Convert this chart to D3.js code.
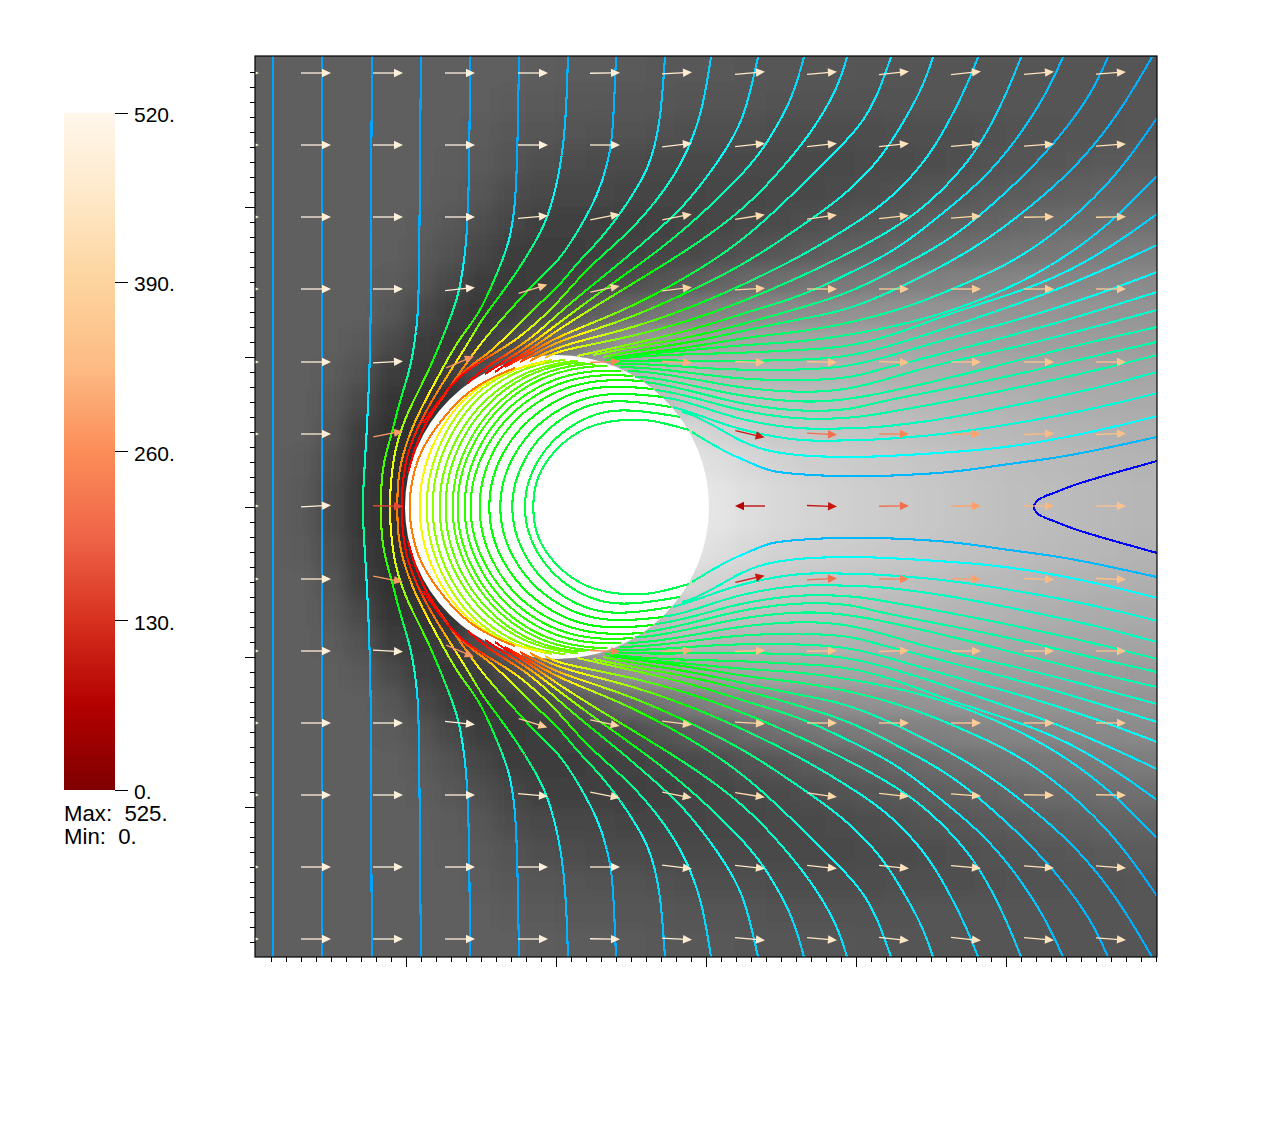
<!DOCTYPE html>
<html>
<head>
  <title>Flow past a disc</title>
  <style>
    html, body { margin: 0; padding: 0; background: #fff; }
    text { font-family: "Liberation Sans", sans-serif; font-size: 21px; fill: #000; white-space: pre; }
    text.note { font-size: 22.2px; }
  </style>
</head>
<body>
  <div id="chart"></div>

  <script src="https://d3js.org/d3.v7.min.js"></script>
  <script>
    // Colour bar
    const barTicks = [520, 390, 260, 130, 0];
    const barNotes = ["Max:  525.", "Min:  0."];

    // Background grey level, upper half of the plot (the lower half is its mirror)
    const heatX = [-286, -256, -226, -196, -166, -136, -106, -76, -46, -16, 14, 44, 74, 104, 134, 164, 194, 224, 254, 284, 314, 344, 374, 404, 434, 464, 494, 524, 554, 584];
    const heatY = [435, 405, 375, 345, 315, 285, 255, 225, 195, 165, 135, 105, 75, 45, 15];
    const heatGrey = [
      [95,95,95,95,95,95,95,95,94,93,92,91,90,89,88,88,87,87,86,86,85,85,85,85,85,85,85,85,85,85],
      [95,95,95,95,95,95,95,94,92,90,89,88,87,86,85,84,84,83,83,83,83,83,84,84,84,84,85,85,85,86],
      [95,95,95,95,95,95,94,92,89,86,84,83,82,81,80,79,79,78,78,78,78,79,80,80,81,82,83,84,85,87],
      [95,95,95,95,95,95,93,90,85,80,77,76,75,74,73,73,73,73,73,74,75,76,78,80,82,84,86,88,90,92],
      [95,95,95,95,95,94,91,86,78,72,70,70,69,69,69,70,71,72,74,76,78,81,84,87,90,92,95,97,99,100],
      [95,95,95,95,95,93,88,79,70,65,65,65,65,66,68,70,73,76,79,83,87,90,94,97,100,103,106,108,110,112],
      [95,95,95,95,94,90,82,70,62,60,62,64,66,68,72,77,82,87,92,96,100,104,108,111,114,117,119,121,123,125],
      [95,95,95,95,92,84,72,62,58,60,66,72,78,84,92,100,106,112,116,120,123,126,128,130,132,134,135,136,137,138],
      [95,95,95,94,87,73,62,57,60,70,82,94,106,116,126,132,136,140,142,144,146,147,148,148,148,148,148,148,148,148],
      [95,95,94,90,76,62,56,60,75,100,118,134,148,155,160,162,164,165,165,165,165,164,163,162,160,159,158,157,156,155],
      [95,95,92,82,62,55,60,80,100,130,150,165,180,185,185,180,180,178,178,178,176,175,174,172,170,168,167,166,165,164],
      [95,94,88,72,54,52,52,60,80,110,140,165,180,190,195,195,193,192,190,188,186,184,182,180,178,176,174,172,171,170],
      [95,94,84,62,50,50,52,60,80,110,150,180,200,210,215,210,205,200,198,196,194,192,190,187,185,183,180,178,176,175],
      [95,92,80,58,50,50,52,60,80,110,150,190,210,222,228,222,215,210,206,204,201,199,196,193,191,188,186,184,182,180],
      [95,90,75,55,50,50,52,60,80,110,150,190,215,228,232,228,222,216,212,208,205,202,199,196,193,190,188,186,184,182]
    ];

    // Arrows: the last row of the tables is the centre row, rows below it repeat the ones above
    // with the angle turned over. null = inside the disc
    const arrowX = [-312, -240, -168, -96, -23, 49, 121, 194, 266, 338, 410, 483, 555];
    const arrowY = [434, 362, 290, 218, 145, 73, 1, -72, -144, -216, -288, -360, -432];
    const arrowAngle = [
      [0,0,0,0,0,1,3,5,5,6,6,5,4],
      [0,0,0,0,0,0,7,6,6,6,5,4,4],
      [0,0,0,0,5,11,11,9,8,6,4,1,1],
      [0,0,0,6,17,12,7,3,0,0,0,0,0],
      [0,0,3,23,null,2,-2,-2,-1,-2,0,0,0],
      [0,0,11,null,null,null,null,-13,-3,0,1,2,2],
      [0,3,-1,null,null,null,null,180,-2,1,0,0,0]
    ];
    const arrowSpeed = [
      [490,490,490,490,490,485,475,465,455,450,445,440,440],
      [490,490,490,490,490,480,460,450,445,440,435,430,430],
      [490,490,490,490,460,440,425,415,410,405,400,395,390],
      [490,490,490,480,370,400,395,390,385,370,370,370,370],
      [490,490,480,270,null,250,310,340,345,340,350,350,350],
      [490,480,280,null,null,null,null,100,210,245,290,325,340],
      [490,485,160,null,null,null,null,70,95,210,285,320,345]
    ];

    // Contours outside the disc, read from the upper half: [x, y, level]
    const outerLines = [
      [[-283,451,.16],[-283,0,.16]],
      [[-234,451,.16],[-234,0,.16]],
      [[-184,451,.16],[-185,307,.16],[-185,167,.17],[-189,77,.25],[-193,17,.36],[-193,0,.38]],
      [[-135,451,.16],[-136,352,.16],[-137,210,.18],[-139,184,.22],[-141,167,.3],[-146,137,.33],[-156,107,.47],[-164,74,.52],[-173,44,.56],[-175,17,.6],[-175,0,.62]],
      [[-86,451,.16],[-87,287,.17],[-93,237,.25],[-98,210,.32],[-109,180,.4],[-128,134,.55],[-146,100,.62],[-158,70,.68],[-164,40,.73],[-167,0,.77]],
      [[-37,451,.16],[-39,324,.17],[-43,284,.22],[-49,257,.3],[-66,217,.47],[-79,190,.52],[-98,167,.62],[-118,130,.72],[-136,97,.8],[-149,67,.85],[-158,34,.87],[-159,0,.88]],
      [[12,451,.17],[9,357,.2],[-6,294,.28],[-19,267,.35],[-46,224,.45],[-73,190,.55],[-86,167,.68],[-103,140,.8],[-126,104,.9],[-143,70,.98],[-151,44,1],[-154,17,1],[-154,0,1]],
      [[60,450,.17],[57,374,.18],[53,350,.2],[44,317,.25],[27,284,.3],[4,247,.38],[-16,230,.44],[-46,197,.55],[-73,167,.72],[-93,139,.87],[-113,110,.95],[-129,87,1],[-141,60,1],[-148,34,1]],
      [[109,450,.18],[106,407,.2],[102,374,.22],[94,344,.25],[84,324,.27],[67,297,.3],[44,267,.37],[21,244,.42],[4,222,.48],[-16,204,.55],[-46,174,.72],[-69,152,.84],[-83,144,.9],[-103,124,.96],[-119,104,1],[-133,84,1]],
      [[155,450,.2],[147,400,.22],[137,370,.24],[127,347,.26],[111,320,.3],[87,290,.33],[64,267,.4],[41,247,.45],[21,227,.52],[4,207,.6],[-13,190,.68],[-36,170,.75],[-56,157,.85],[-73,147,.95],[-93,134,1],[-109,117,1]],
      [[202,450,.2],[194,414,.22],[186,387,.23],[174,364,.25],[161,344,.26],[141,317,.3],[121,294,.33],[94,270,.36],[64,244,.43],[34,220,.5],[4,195,.62],[-26,167,.8],[-56,149,.95],[-76,135,1],[-88,124,1]],
      [[248,450,.2],[237,410,.22],[217,374,.25],[204,354,.27],[184,330,.3],[147,294,.35],[104,257,.42],[47,217,.55],[4,185,.7],[-26,162,.85],[-56,143,1],[-71,133,1]],
      [[291,450,.21],[281,417,.23],[257,377,.25],[231,344,.29],[191,300,.33],[137,260,.4],[71,220,.55],[4,179,.75],[-26,157,.92],[-51,142,1],[-61,135,1]],
      [[335,450,.22],[327,427,.22],[319,407,.23],[304,380,.24],[271,347,.26],[234,310,.3],[191,270,.35],[144,237,.42],[71,197,.58],[4,172,.8],[-26,154,.93],[-51,140,.98]],
      [[377,450,.22],[367,420,.22],[347,384,.23],[324,347,.25],[287,310,.27],[244,280,.32],[191,244,.38],[137,217,.45],[71,187,.62],[4,167,.82],[-21,153,.9],[-36,145,.95]],
      [[422,450,.2],[412,424,.21],[394,387,.22],[371,347,.24],[334,307,.25],[294,280,.29],[244,250,.33],[191,224,.4],[137,200,.48],[71,177,.66],[4,162,.78],[-26,146,.88]],
      [[465,450,.2],[451,414,.21],[424,360,.22],[394,324,.24],[354,287,.27],[294,254,.31],[244,230,.36],[191,207,.42],[137,187,.5],[71,169,.62],[4,157,.75],[-11,149,.82]],
      [[507,450,.18],[491,414,.19],[461,367,.2],[427,327,.22],[387,294,.24],[341,257,.27],[294,234,.31],[244,210,.37],[191,195,.42],[137,177,.52],[71,162,.62],[21,151,.7]],
      [[552,450,.17],[536,414,.18],[507,374,.18],[474,337,.2],[434,300,.23],[394,267,.26],[344,240,.3],[294,214,.34],[244,199,.38],[191,184,.43],[137,170,.52],[71,159,.6],[37,152,.65]],
      [[596,450,.17],[577,417,.17],[551,377,.18],[514,334,.19],[467,294,.23],[417,257,.26],[354,224,.3],[294,197,.34],[244,188,.38],[191,177,.42],[137,165,.5],[71,155,.55],[47,150,.6]],
      [[601,389,.16],[577,354,.18],[547,317,.2],[507,280,.22],[461,247,.25],[411,224,.29],[354,200,.33],[294,184,.37],[244,175,.39],[191,170,.43],[137,160,.48],[71,152,.53],[56,148,.55]],
      [[601,331,.18],[571,300,.2],[534,267,.22],[484,234,.25],[427,207,.29],[361,185,.33],[294,172,.36],[244,165,.38],[184,162,.41],[137,157,.45],[84,153,.48],[54,149,.5]],
      [[601,293,.2],[561,264,.22],[511,234,.25],[454,212,.28],[394,194,.31],[344,174,.34],[294,160,.36],[244,157,.38],[184,154,.41],[137,153,.44],[84,151,.46],[49,147,.48]],
      [[601,262,.22],[554,240,.24],[501,217,.27],[444,197,.3],[394,180,.32],[344,164,.34],[294,150,.35],[244,147,.37],[184,146,.39],[144,146,.41],[94,147,.44],[54,145,.46]],
      [[601,235,.24],[554,217,.26],[501,199,.29],[444,182,.31],[394,169,.33],[344,154,.34],[294,140,.35],[244,137,.36],[184,137,.38],[144,139,.4],[94,143,.43],[56,143,.45]],
      [[601,215,.27],[544,197,.29],[494,182,.31],[427,164,.33],[361,147,.34],[314,135,.35],[294,129,.35],[244,126,.36],[184,128,.38],[144,133,.4],[94,139,.42],[64,140,.44]],
      [[601,197,.3],[527,177,.31],[461,160,.33],[387,144,.34],[344,132,.35],[294,117,.35],[244,114,.36],[184,119,.37],[144,127,.39],[94,135,.41],[72,136,.43]],
      [[601,180,.32],[544,167,.33],[494,155,.33],[437,140,.34],[364,122,.35],[294,107,.35],[244,104,.36],[184,111,.37],[144,120,.38],[94,130,.4],[79,130,.42]],
      [[601,165,.33],[534,150,.33],[451,130,.34],[384,117,.34],[317,104,.35],[294,97,.35],[244,95,.35],[184,103,.36],[144,114,.37],[104,123,.39],[89,125,.4]],
      [[601,152,.33],[534,135,.33],[451,117,.33],[384,104,.33],[317,92,.34],[294,89,.34],[244,87,.34],[184,96,.35],[144,108,.36],[109,116,.37],[99,117,.38]],
      [[601,135,.31],[534,117,.31],[451,100,.31],[384,87,.31],[317,79,.32],[294,79,.32],[244,77,.32],[184,87,.33],[144,101,.34],[116,109,.35],[108,109,.35]],
      [[601,114,.29],[534,97,.29],[451,82,.29],[384,72,.29],[317,67,.29],[294,67,.29],[244,65,.3],[184,77,.31],[154,88,.32],[124,98,.33],[117,100,.33]],
      [[601,91,.25],[534,74,.25],[451,59,.25],[384,54,.25],[317,50,.25],[284,50,.26],[244,51,.27],[204,57,.28],[177,70,.3],[157,82,.31],[137,92,.33],[126,95,.34]],
      [[601,70,.18],[551,59,.18],[501,49,.18],[451,43,.18],[401,35,.18],[351,32,.18],[301,30,.18],[251,32,.18],[217,35,.19],[204,40,.21],[171,54,.27],[144,70,.35],[136,75,.38]],
      [[477,0,0],[480,6,0],[486,10,0],[501,15,0],[517,22,0],[551,32,0],[601,46,0]]
    ];

    // Contours inside the disc, one level per arc
    const innerLevels = [.42,.44,.46,.48,.5,.52,.53,.54,.56,.58,.6,.62,.64,.68,.76,.88];
    const innerArcs = [
      [[-23,0],[-22,17],[-16,37],[1,60],[24,77],[47,85],[74,88],[97,87],[133,77]],
      [[-33,0],[-27,34],[-3,70],[34,93],[69,99],[124,90]],
      [[-46,0],[-39,37],[-14,76],[26,102],[64,108],[115,100]],
      [[-58,0],[-51,39],[-24,81],[19,108],[59,115],[107,110]],
      [[-69,0],[-62,42],[-33,86],[12,115],[54,122],[97,118]],
      [[-79,0],[-71,44],[-42,91],[5,120],[49,128],[87,126]],
      [[-88,0],[-80,45],[-49,94],[-1,125],[44,133],[77,131]],
      [[-94,0],[-86,47],[-55,97],[-6,129],[39,137],[65,136]],
      [[-101,0],[-93,48],[-61,100],[-12,133],[34,141],[51,141]],
      [[-106,0],[-98,49],[-66,102],[-17,135],[29,144],[39,142]],
      [[-113,0],[-105,50],[-74,102],[-26,136],[19,145],[29,144]],
      [[-119,0],[-111,50],[-80,103],[-31,137],[14,146],[22,146]],
      [[-126,0],[-118,50],[-88,104],[-40,138],[4,147],[9,147]],
      [[-132,0],[-124,50],[-95,104],[-48,138],[-4,147]],
      [[-139,0],[-131,50],[-102,103],[-55,136],[-11,145]],
      [[-147,0],[-145,22],[-138,52],[-119,82],[-93,112],[-66,129],[-41,139]]
    ];

    const disc = { x: 1, y: 0, r: 152 };

    const width = 1280, height = 1127;
    const svg = d3.select("#chart").append("svg")
      .attr("width", width)
      .attr("height", height)
      .style("display", "block");

    // Plot scales
    const x = d3.scaleLinear().domain([-301, 601]).range([255, 1157]);
    const y = d3.scaleLinear().domain([-450, 451]).range([957, 56]);

    const defs = svg.append("defs");
    defs.append("clipPath").attr("id", "plot")
      .append("rect")
      .attr("x", x(-301)).attr("y", y(451))
      .attr("width", x(601) - x(-301)).attr("height", y(-450) - y(451));
    defs.append("filter").attr("id", "soft")
      .attr("filterUnits", "userSpaceOnUse")
      .attr("x", 150).attr("y", -50).attr("width", 1120).attr("height", 1120)
      .append("feGaussianBlur").attr("stdDeviation", 8);

    const plot = svg.append("g").attr("clip-path", "url(#plot)");

    // Background field
    const heat = plot.append("g").attr("filter", "url(#soft)");
    const half = 15, overrun = 60;
    [1, -1].forEach(side => {
      heatY.forEach((v, r) => {
        heatX.forEach((u, c) => {
          const x0 = x(u - half - (c === 0 ? overrun : 0));
          const x1 = x(u + half + (c === heatX.length - 1 ? overrun : 0));
          const yTop = side * (v + half + (r === 0 ? overrun : 0));
          const yBot = side * (v - half);
          const g = heatGrey[r][c];
          heat.append("rect")
            .attr("x", x0)
            .attr("y", Math.min(y(yTop), y(yBot)))
            .attr("width", x1 - x0 + 0.5)
            .attr("height", Math.abs(y(yBot) - y(yTop)) + 0.5)
            .attr("fill", d3.rgb(g, g, g));
        });
      });
    });

    // The disc itself has no field
    plot.append("circle")
      .attr("cx", x(disc.x)).attr("cy", y(disc.y))
      .attr("r", x(disc.r) - x(0))
      .attr("fill", "#fff");

    // Contour colours
    const hot = d3.scaleLinear()
      .domain([0, .25, .5, .75, 1])
      .range(["#0000ff", "#00ffff", "#00ff00", "#ffff00", "#ff0000"])
      .clamp(true);

    const curve = d3.line().curve(d3.curveBasis);
    const measure = svg.append("path").attr("fill", "none").attr("stroke", "none");
    const contours = plot.append("g")
      .attr("fill", "none")
      .attr("stroke-width", 2.1)
      .attr("shape-rendering", "crispEdges");

    function drawContour(points) {
      const px = points.map(p => [x(p[0]), y(p[1])]);
      const d = curve(px);
      measure.attr("d", d);
      const node = measure.node();
      const total = node.getTotalLength();

      // position of each read point along the line, for the level between them
      let run = 0;
      const along = px.map((p, i) => {
        if (i > 0) run += Math.hypot(p[0] - px[i - 1][0], p[1] - px[i - 1][1]);
        return run;
      });
      const level = d3.scaleLinear().domain(along.map(a => a / run)).range(points.map(p => p[2]));

      const step = 4;
      const n = Math.max(1, Math.ceil(total / step));
      for (let i = 0; i < n; i++) {
        const a = node.getPointAtLength(i / n * total);
        const b = node.getPointAtLength((i + 1) / n * total);
        contours.append("line")
          .attr("x1", a.x).attr("y1", a.y)
          .attr("x2", b.x).attr("y2", b.y)
          .attr("stroke", hot(level((i + 0.5) / n)));
      }
    }

    // Lines that reach the centre line join their mirror image, the others are drawn twice
    function drawBothHalves(points) {
      const mirror = points.map(p => [p[0], -p[1], p[2]]);
      if (points[points.length - 1][1] === 0) {
        drawContour(points.concat(mirror.slice(0, -1).reverse()));
      } else if (points[0][1] === 0) {
        drawContour(mirror.slice(1).reverse().concat(points));
      } else {
        drawContour(points);
        drawContour(mirror);
      }
    }

    outerLines.forEach(drawBothHalves);
    innerArcs.forEach((l, i) => drawBothHalves(l.map(p => [p[0], p[1], innerLevels[i]])));
    measure.remove();

    // Arrows and colour bar share this ramp
    const ramp = d3.scaleLinear()
      .domain(d3.range(9).map(i => i * 65))
      .range(d3.schemeOrRd[9].slice().reverse())
      .clamp(true);

    const arrows = plot.append("g");
    function drawArrow(cx, cy, angle, speed) {
      const g = arrows.append("g")
        .attr("transform", `translate(${cx},${cy}) rotate(${-angle})`);
      g.append("line")
        .attr("x1", -15).attr("x2", 8).attr("y1", 0).attr("y2", 0)
        .attr("stroke", ramp(speed)).attr("stroke-width", 1.3);
      g.append("path")
        .attr("d", "M15,0L6,-4.2L6,4.2Z")
        .attr("fill", ramp(speed));
    }
    arrowY.forEach((v, r) => {
      const row = r <= 6 ? r : 12 - r;
      const sign = r <= 6 ? 1 : -1;
      arrowX.forEach((u, c) => {
        const a = arrowAngle[row][c];
        if (a === null) return;
        drawArrow(x(u), y(v), sign * a, arrowSpeed[row][c]);
      });
    });

    // Tick marks and frame
    const minorX = d3.range(-285, 601, 15), majorX = [-150, 0, 150, 300, 450];
    const minorY = d3.range(-435, 436, 15), majorY = [-300, -150, 0, 150, 300];
    const noLabel = () => "";
    svg.append("g").attr("transform", `translate(0,${y(-450)})`)
      .call(d3.axisBottom(x).tickValues(minorX).tickSize(5).tickFormat(noLabel));
    svg.append("g").attr("transform", `translate(0,${y(-450)})`)
      .call(d3.axisBottom(x).tickValues(majorX).tickSize(10).tickFormat(noLabel));
    svg.append("g").attr("transform", `translate(${x(-301)},0)`)
      .call(d3.axisLeft(y).tickValues(minorY).tickSize(5).tickFormat(noLabel));
    svg.append("g").attr("transform", `translate(${x(-301)},0)`)
      .call(d3.axisLeft(y).tickValues(majorY).tickSize(10).tickFormat(noLabel));
    svg.selectAll(".domain").remove();
    svg.selectAll(".tick line").attr("stroke", "#000").attr("stroke-width", 1).attr("shape-rendering", "crispEdges");
    svg.append("rect")
      .attr("x", x(-301)).attr("y", y(451))
      .attr("width", x(601) - x(-301)).attr("height", y(-450) - y(451))
      .attr("fill", "none").attr("stroke", "#000").attr("stroke-width", 1.2);

    // Colour bar
    const barY = d3.scaleLinear().domain([0, 520]).range([790, 113]);
    const grad = defs.append("linearGradient").attr("id", "bar")
      .attr("x1", 0).attr("x2", 0).attr("y1", 1).attr("y2", 0);
    ramp.domain().forEach(v => {
      grad.append("stop").attr("offset", v / 520).attr("stop-color", ramp(v));
    });
    svg.append("rect")
      .attr("x", 64).attr("y", barY(520))
      .attr("width", 51).attr("height", barY(0) - barY(520))
      .attr("fill", "url(#bar)");
    const barTick = svg.selectAll(".bar-tick").data(barTicks).enter().append("g")
      .attr("transform", d => `translate(115,${barY(d)})`);
    barTick.append("line")
      .attr("x2", 13).attr("stroke", "#000").attr("stroke-width", 1)
      .attr("shape-rendering", "crispEdges");
    barTick.append("text")
      .attr("x", 19).attr("y", 9)
      .text(d => d + ".");
    svg.selectAll(".bar-note").data(barNotes).enter().append("text")
      .attr("class", "note")
      .attr("x", 64)
      .attr("y", (d, i) => 821 + i * 23)
      .text(d => d);
  </script>
</body>
</html>
